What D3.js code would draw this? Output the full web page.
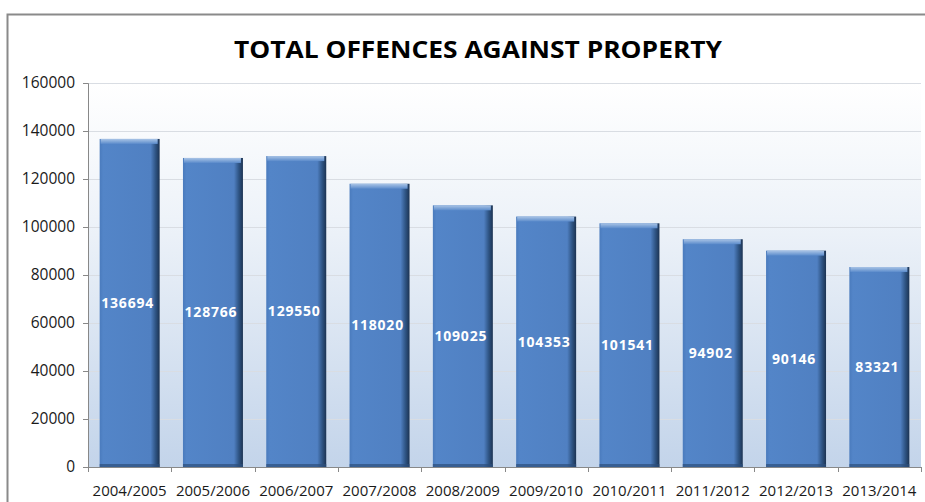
<!DOCTYPE html>
<html>
<head>
<meta charset="utf-8">
<script src="https://cdn.jsdelivr.net/npm/d3@7"></script>
<style>
  html, body { margin: 0; padding: 0; background: #fff; }
  svg { display: block; }
</style>
</head>
<body>
<svg id="chart" width="925" height="502"></svg>
<script>
// Financial years and total recorded offences against property
const years = ["2004/2005", "2005/2006", "2006/2007", "2007/2008", "2008/2009",
               "2009/2010", "2010/2011", "2011/2012", "2012/2013", "2013/2014"];
const offences = [136694, 128766, 129550, 118020, 109025, 104353, 101541, 94902, 90146, 83321];
const yTicks = [0, 20000, 40000, 60000, 80000, 100000, 120000, 140000, 160000];
const title = "TOTAL OFFENCES AGAINST PROPERTY";

const svg = d3.select("#chart");
const W = 925, H = 502;
const margin = { left: 88, right: 4, top: 83, bottom: 35 };
const plotW = W - margin.left - margin.right;
const plotH = H - margin.top - margin.bottom;

const font = "'Open Sans', sans-serif";

const defs = svg.append("defs");

// Plot background: white at the top fading to pale blue at the base
const bg = defs.append("linearGradient").attr("id", "plotBg")
  .attr("x1", 0).attr("y1", 0).attr("x2", 0).attr("y2", 1);
bg.append("stop").attr("offset", "0%").attr("stop-color", "#ffffff");
bg.append("stop").attr("offset", "35%").attr("stop-color", "#eef3f9");
bg.append("stop").attr("offset", "100%").attr("stop-color", "#c3d4ea");

// Bar body shading: darker edges, bright middle
const barG = defs.append("linearGradient").attr("id", "barFill")
  .attr("x1", 0).attr("y1", 0).attr("x2", 1).attr("y2", 0);
barG.append("stop").attr("offset", "0%").attr("stop-color", "#4a7bbd");
barG.append("stop").attr("offset", "6%").attr("stop-color", "#5385c8");
barG.append("stop").attr("offset", "85%").attr("stop-color", "#5080c2");
barG.append("stop").attr("offset", "93%").attr("stop-color", "#2f5585");
barG.append("stop").attr("offset", "100%").attr("stop-color", "#1c3352");

// Bevel on the top of each bar
const capG = defs.append("linearGradient").attr("id", "barCap")
  .attr("x1", 0).attr("y1", 0).attr("x2", 0).attr("y2", 1);
capG.append("stop").attr("offset", "0%").attr("stop-color", "#a9c4e6");
capG.append("stop").attr("offset", "100%").attr("stop-color", "#5b8bcb");

// Outer frame
svg.append("rect").attr("x", 7.5).attr("y", 14.5).attr("width", W + 10).attr("height", H + 10)
  .attr("fill", "#ffffff").attr("stroke", "#8a8a8a").attr("stroke-width", 2);

// Title
svg.append("text")
  .attr("x", 478).attr("y", 58)
  .attr("text-anchor", "middle")
  .attr("font-family", font)
  .attr("font-weight", "bold")
  .attr("font-size", 24)
  .attr("textLength", 488)
  .attr("lengthAdjust", "spacingAndGlyphs")
  .attr("fill", "#000")
  .text(title);

const x = d3.scaleBand().domain(years).range([0, plotW]).paddingInner(0.28).paddingOuter(0.14);
const y = d3.scaleLinear().domain([0, 160000]).range([plotH, 0]);

const g = svg.append("g").attr("transform", `translate(${margin.left},${margin.top})`);

g.append("rect").attr("width", plotW).attr("height", plotH).attr("fill", "url(#plotBg)");

// Horizontal gridlines
g.append("g").selectAll("line").data(yTicks.filter(d => d > 0)).join("line")
  .attr("x1", 0).attr("x2", plotW)
  .attr("y1", d => Math.round(y(d)) + 0.5).attr("y2", d => Math.round(y(d)) + 0.5)
  .attr("stroke", "#d9dde3").attr("stroke-width", 1);

// Bars
const bars = g.append("g").selectAll("g").data(years.map((yr, i) => ({ yr, v: offences[i] }))).join("g");

bars.append("rect")
  .attr("x", d => x(d.yr))
  .attr("y", d => y(d.v))
  .attr("width", x.bandwidth())
  .attr("height", d => plotH - y(d.v))
  .attr("fill", "url(#barFill)");

bars.append("rect")
  .attr("x", d => x(d.yr) + 1)
  .attr("y", d => y(d.v))
  .attr("width", x.bandwidth() - 3)
  .attr("height", 5)
  .attr("fill", "url(#barCap)");

bars.append("rect")
  .attr("x", d => x(d.yr))
  .attr("y", plotH - 3)
  .attr("width", x.bandwidth())
  .attr("height", 3)
  .attr("fill", "#2c4e7c")
  .attr("opacity", 0.7);

// Value labels centred inside each bar
bars.append("text")
  .attr("x", d => x(d.yr) + x.bandwidth() / 2 - 2)
  .attr("y", d => (y(d.v) + plotH) / 2)
  .attr("dy", "0.35em")
  .attr("text-anchor", "middle")
  .attr("font-family", font)
  .attr("font-weight", "bold")
  .attr("font-size", 14)
  .attr("letter-spacing", 0.8)
  .attr("fill", "#ffffff")
  .text(d => d.v);

// Axes
const yAxis = g.append("g")
  .call(d3.axisLeft(y).tickValues(yTicks).tickSize(5).tickPadding(8).tickFormat(d3.format("d")));
const xAxis = g.append("g").attr("transform", `translate(0,${plotH})`)
  .call(d3.axisBottom(x).tickSize(0).tickPadding(18));

// Category tick marks sit between bands
g.append("g").selectAll("line").data(d3.range(years.length + 1)).join("line")
  .attr("x1", i => Math.round(i * plotW / years.length) + 0.5)
  .attr("x2", i => Math.round(i * plotW / years.length) + 0.5)
  .attr("y1", plotH).attr("y2", plotH + 5)
  .attr("stroke", "#888");

[yAxis, xAxis].forEach(a => {
  a.selectAll(".domain").attr("stroke", "#888");
  a.selectAll(".tick line").attr("stroke", "#888");
  a.selectAll("text").attr("font-family", font).attr("fill", "#1a1a1a");
});
yAxis.selectAll("text").attr("font-size", 15.5);
xAxis.selectAll("text").attr("font-size", 15);
</script>
</body>
</html>
